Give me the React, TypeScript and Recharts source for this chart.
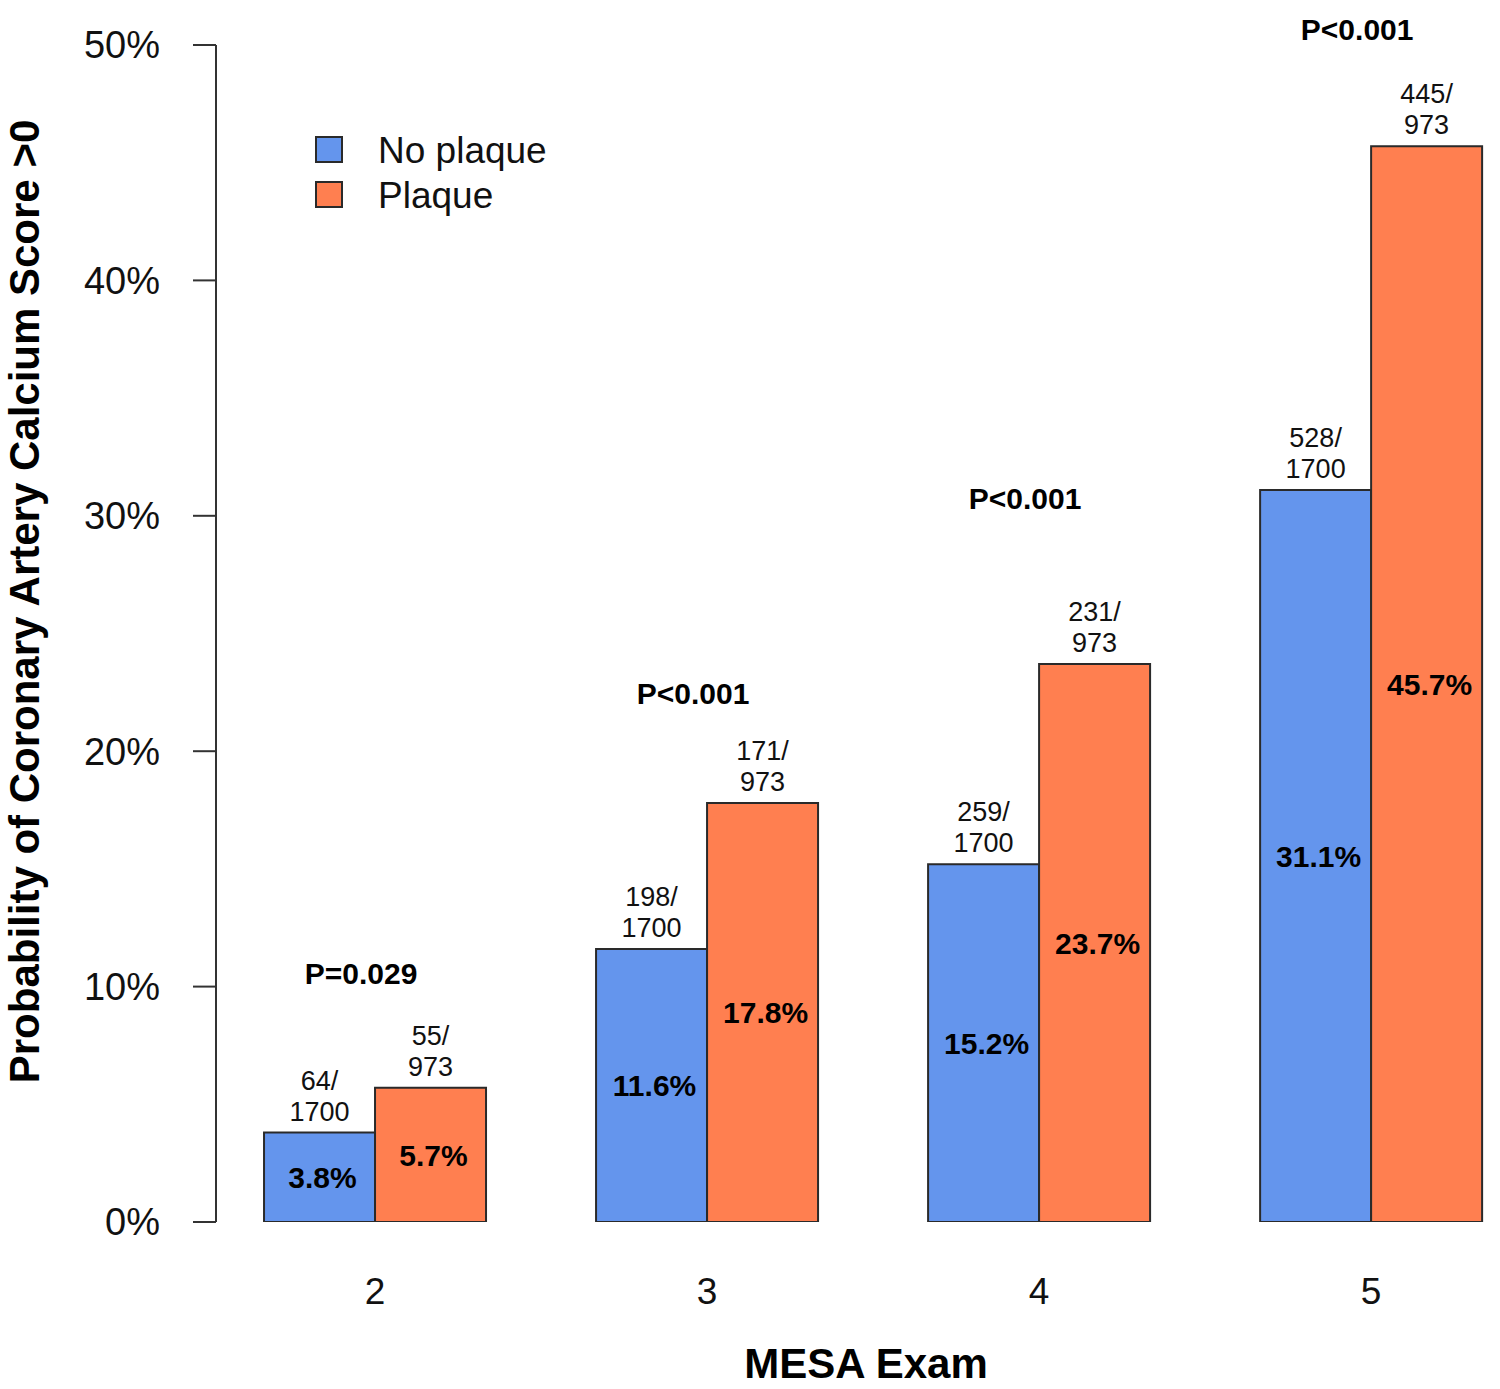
import React from 'react';
import {
  ComposedChart,
  Bar,
  XAxis,
  YAxis,
  Label,
  LabelList,
  Legend,
  ReferenceDot
} from 'recharts';

const FONT = '"Liberation Sans", Arial, Helvetica, sans-serif';
const BLUE = '#6495ED';
const ORANGE = '#FF7F50';
const EDGE = '#2a2a2a';

// MESA exams and probability of CAC > 0 (%)
const exams = [2, 3, 4, 5];
const noPlaquePct = [3.8, 11.6, 15.2, 31.1];
const plaquePct = [5.7, 17.8, 23.7, 45.7];
const noPlaqueCases = [64, 198, 259, 528];
const plaqueCases = [55, 171, 231, 445];
const noPlaqueTotal = 1700;
const plaqueTotal = 973;
const pValues = ['P=0.029', 'P<0.001', 'P<0.001', 'P<0.001'];
const pValueLevels = [10.1, 22.0, 30.3, 50.2];
const yTicks = [0, 10, 20, 30, 40, 50];

const data = exams.map((exam, i) => ({
  exam,
  noPlaque: noPlaquePct[i],
  plaque: plaquePct[i],
  noPlaqueCount: `${noPlaqueCases[i]}/\n${noPlaqueTotal}`,
  plaqueCount: `${plaqueCases[i]}/\n${plaqueTotal}`
}));

const CountLabel = (props: any) => {
  const x = Number(props.x);
  const y = Number(props.y);
  const w = Number(props.width);
  const [top, bottom] = String(props.value).split('\n');
  const cx = x + w / 2;
  return (
    <g fontFamily={FONT} fontSize={27} fill="#111">
      <text x={cx} y={y - 43} textAnchor="middle">{top}</text>
      <text x={cx} y={y - 12} textAnchor="middle">{bottom}</text>
    </g>
  );
};

const PctLabel = (props: any) => {
  const x = Number(props.x);
  const y = Number(props.y);
  const w = Number(props.width);
  const h = Number(props.height);
  return (
    <text
      x={x + w / 2 + 3}
      y={y + h / 2 + 11}
      textAnchor="middle"
      fontFamily={FONT}
      fontSize={30}
      fontWeight="bold"
      fill="#000"
    >
      {`${props.value}%`}
    </text>
  );
};

const LegendContent = (props: any) => {
  const items = props.payload || [];
  return (
    <svg width={320} height={110} style={{ display: 'block', overflow: 'visible' }}>
      {items.map((entry: any, i: number) => (
        <g key={entry.value}>
          <rect
            x={2}
            y={2 + i * 45}
            width={26}
            height={25}
            fill={entry.color}
            stroke={EDGE}
            strokeWidth={2}
          />
          <text x={64} y={28 + i * 45} fontFamily={FONT} fontSize={37} fill="#111">
            {entry.value}
          </text>
        </g>
      ))}
    </svg>
  );
};

export default function App() {
  return (
    <div style={{ position: 'absolute', left: 0, top: 0, background: '#fff' }}>
      <ComposedChart
        width={1500}
        height={1389}
        data={data}
        margin={{ top: 45, right: 10, bottom: 0, left: 0 }}
        barGap={0}
        style={{ fontFamily: FONT }}
      >
        <XAxis
          dataKey="exam"
          type="number"
          domain={[1.521, 5.358]}
          allowDataOverflow
          ticks={exams}
          axisLine={false}
          tickLine={false}
          tickSize={0}
          tickMargin={56}
          height={167}
          tick={{ fontSize: 37, fill: '#111', fontFamily: FONT }}
        >
          <Label
            content={(p: any) => {
              const vb = p.viewBox;
              return (
                <text
                  x={vb.x + vb.width / 2 + 13}
                  y={vb.y + 156}
                  textAnchor="middle"
                  fontFamily={FONT}
                  fontSize={42}
                  fontWeight="bold"
                  fill="#000"
                >
                  MESA Exam
                </text>
              );
            }}
          />
        </XAxis>
        <YAxis
          type="number"
          domain={[0, 50]}
          allowDataOverflow
          ticks={yTicks}
          tickFormatter={(v: number) => `${v}%`}
          width={216}
          tickSize={23}
          tickMargin={33}
          axisLine={{ stroke: '#333', strokeWidth: 2 }}
          tickLine={{ stroke: '#333', strokeWidth: 2 }}
          tick={{ fontSize: 38, fill: '#111', fontFamily: FONT }}
        >
          <Label
            content={(p: any) => {
              const vb = p.viewBox;
              const cx = 39;
              const cy = vb.y + vb.height / 2 - 32;
              return (
                <text
                  x={cx}
                  y={cy}
                  transform={`rotate(-90 ${cx} ${cy})`}
                  textAnchor="middle"
                  fontFamily={FONT}
                  fontSize={42}
                  fontWeight="bold"
                  fill="#000"
                >
                  Probability of Coronary Artery Calcium Score &gt;0
                </text>
              );
            }}
          />
        </YAxis>
        <Legend
          layout="vertical"
          align="center"
          verticalAlign="middle"
          content={LegendContent}
          wrapperStyle={{ left: 314, top: 135, width: 320, height: 110 }}
        />
        <Bar
          dataKey="noPlaque"
          name="No plaque"
          fill={BLUE}
          stroke={EDGE}
          strokeWidth={2}
          barSize={111}
          isAnimationActive={false}
        >
          <LabelList dataKey="noPlaqueCount" content={CountLabel} />
          <LabelList dataKey="noPlaque" content={PctLabel} />
        </Bar>
        <Bar
          dataKey="plaque"
          name="Plaque"
          fill={ORANGE}
          stroke={EDGE}
          strokeWidth={2}
          barSize={111}
          isAnimationActive={false}
        >
          <LabelList dataKey="plaqueCount" content={CountLabel} />
          <LabelList dataKey="plaque" content={PctLabel} />
        </Bar>
        {exams.map((exam, i) => (
          <ReferenceDot
            key={exam}
            x={exam}
            y={pValueLevels[i]}
            r={0}
            ifOverflow="visible"
            shape={(p: any) => (
              <text
                x={p.cx - 14}
                y={p.cy}
                textAnchor="middle"
                fontFamily={FONT}
                fontSize={30}
                fontWeight="bold"
                fill="#000"
              >
                {pValues[i]}
              </text>
            )}
          />
        ))}
      </ComposedChart>
    </div>
  );
}
